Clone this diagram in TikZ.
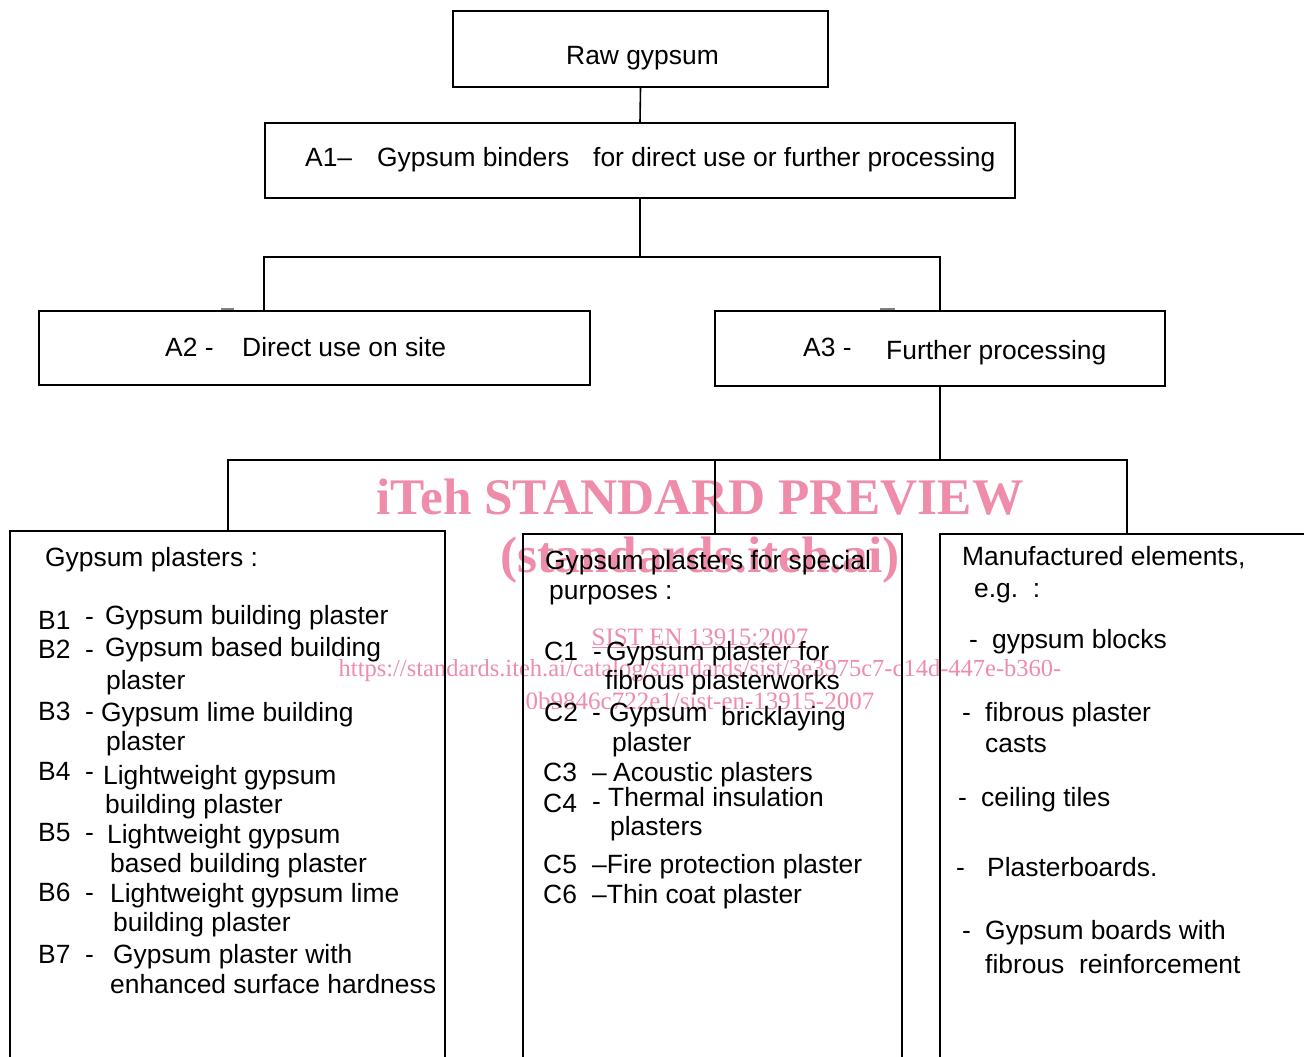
\documentclass[tikz,border=0pt]{standalone}
\usepackage{fontspec}
\setmainfont{Liberation Sans}
\newfontfamily\wmfont{Liberation Serif}
\newcommand\mainf{\fontsize{26.4}{30}\selectfont}
\definecolor{wmpink}{RGB}{239,140,170}
\begin{document}
\begin{tikzpicture}[x=1pt,y=-1pt,
  box/.style={draw=black,line width=1.6pt,rectangle,inner sep=0pt},
  txt/.style={anchor=base west,inner sep=0pt,font=\mainf,text=black},
  wm/.style={anchor=base,inner sep=0pt,text=wmpink},
  conn/.style={draw=black,line width=1.6pt}]
\useasboundingbox (0,0) rectangle (1304,1057);
\clip (0,0) rectangle (1304,1057);
\fill[white] (0,0) rectangle (1304,1057);

% watermark
\node[wm,font=\wmfont\bfseries\fontsize{51.3}{56}\selectfont] (wm1) at (700,514) {iTeh STANDARD PREVIEW};
\node[wm,font=\wmfont\bfseries\fontsize{51.3}{56}\selectfont] (wm2) at (700,572) {(standards.iteh.ai)};
\node[wm,font=\wmfont\fontsize{25}{28}\selectfont] (wm3) at (700,645) {\underline{SIST EN 13915:2007}};
\node[wm,font=\wmfont\fontsize{24.5}{28}\selectfont] (wm4) at (700,676) {https://standards.iteh.ai/catalog/standards/sist/3e3975c7-c14d-447e-b360-};
\node[wm,font=\wmfont\fontsize{25}{28}\selectfont] (wm5) at (700,709) {0b9846c722e1/sist-en-13915-2007};

% boxes
\node[box,minimum width=375,minimum height=76] (raw) at (640.5,49) {};
\node[box,minimum width=750,minimum height=75] (a1) at (640,160.5) {};
\node[box,minimum width=551,minimum height=74] (a2) at (314.5,348) {};
\node[box,minimum width=450,minimum height=75] (a3) at (940,348.5) {};
\node[box,minimum width=435,minimum height=560] (bl) at (227.5,811) {};
\node[box,minimum width=379,minimum height=560] (bm) at (712.5,814) {};
\node[box,minimum width=440,minimum height=560] (br) at (1160,814) {};

% connectors
\coordinate (j1) at (640,257);
\coordinate (j1l) at (264,257);
\coordinate (j1r) at (940,257);
\coordinate (a2t) at (264,311);
\coordinate (j2) at (940,460);
\coordinate (j2l) at (228,460);
\coordinate (j2m) at (715,460);
\coordinate (j2r) at (1127,460);
\coordinate (blt) at (228,531);
\coordinate (bmt) at (715,534);
\coordinate (brt) at (1127,534);
\draw[conn] (raw.south) -- (a1.north);
\draw[conn] (a1.south) -- (j1);
\draw[conn] (a2t) -- (j1l) -- (j1r) -- (a3.north);
\draw[conn] (a3.south) -- (j2);
\draw[conn] (blt) -- (j2l) -- (j2r) -- (brt);
\draw[conn] (j2m) -- (bmt);
\draw[gray,line width=2pt] (221,309) -- (234,309);
\draw[gray,line width=2pt] (880,309) -- (895,309);

% top texts
\node[txt] (traw) at (566,64) {Raw gypsum};
\node[txt] (ta1a) at (305,166) {A1–};
\node[txt] (ta1b) at (377,166) {Gypsum binders};
\node[txt] (ta1c) at (593,166) {for direct use or further processing};
\node[txt] (ta2a) at (165,356) {A2 -};
\node[txt] (ta2b) at (242,356) {Direct use on site};
\node[txt] (ta3a) at (803,356) {A3 -};
\node[txt] (ta3b) at (886,359) {Further processing};

% left box
\node[txt] (l0) at (45,566) {Gypsum plasters :};
\node[txt] (l1a) at (38,629) {B1}; \node[txt] (l1b) at (85,625) {-}; \node[txt] (l1c) at (105,624) {Gypsum building plaster};
\node[txt] (l2a) at (38,658) {B2}; \node[txt] (l2b) at (85,658) {-}; \node[txt] (l2c) at (105,656) {Gypsum based building};
\node[txt] (l2d) at (106,689) {plaster};
\node[txt] (l3a) at (38,720) {B3}; \node[txt] (l3b) at (85,720) {-}; \node[txt] (l3c) at (101,721) {Gypsum lime building};
\node[txt] (l3d) at (106,750) {plaster};
\node[txt] (l4a) at (38,780) {B4}; \node[txt] (l4b) at (85,780) {-}; \node[txt] (l4c) at (103,784) {Lightweight gypsum};
\node[txt] (l4d) at (105,813) {building plaster};
\node[txt] (l5a) at (38,841) {B5}; \node[txt] (l5b) at (85,841) {-}; \node[txt] (l5c) at (107,843) {Lightweight gypsum};
\node[txt] (l5d) at (110,872) {based building plaster};
\node[txt] (l6a) at (38,901) {B6}; \node[txt] (l6b) at (85,901) {-}; \node[txt] (l6c) at (110,902) {Lightweight gypsum lime};
\node[txt] (l6d) at (113,931) {building plaster};
\node[txt] (l7a) at (38,963) {B7}; \node[txt] (l7b) at (85,963) {-}; \node[txt] (l7c) at (113,963) {Gypsum plaster with};
\node[txt] (l7d) at (110,993) {enhanced surface hardness};

% middle box
\node[txt] (m0) at (545,569) {Gypsum plasters for special};
\node[txt] (m0b) at (549,599) {purposes :};
\node[txt] (m1a) at (544,660) {C1}; \node[txt] (m1b) at (593,660) {-}; \node[txt] (m1c) at (606,660) {Gypsum plaster for};
\node[txt] (m1d) at (605,689) {fibrous plasterworks};
\node[txt] (m2a) at (544,721) {C2}; \node[txt] (m2b) at (592,721) {-}; \node[txt] (m2c) at (609,721) {Gypsum}; \node[txt] (m2e) at (721,725) {bricklaying};
\node[txt] (m2d) at (612,751) {plaster};
\node[txt] (m3a) at (543,781) {C3}; \node[txt] (m3b) at (592,781) {–}; \node[txt] (m3c) at (613,781) {Acoustic plasters};
\node[txt] (m4a) at (543,812) {C4}; \node[txt] (m4b) at (592,810) {-}; \node[txt] (m4c) at (608,806) {Thermal insulation};
\node[txt] (m4d) at (610,835) {plasters};
\node[txt] (m5a) at (543,873) {C5}; \node[txt] (m5b) at (592,873) {–Fire protection plaster};
\node[txt] (m6a) at (543,903) {C6}; \node[txt] (m6b) at (592,903) {–Thin coat plaster};

% right box
\node[txt] (r0) at (962,565) {Manufactured elements,};
\node[txt] (r0b) at (974,597) {e.g.\ \ :};
\node[txt] (r1a) at (969,648) {-}; \node[txt] (r1b) at (992,648) {gypsum blocks};
\node[txt] (r2a) at (962,721) {-}; \node[txt] (r2b) at (985,721) {fibrous plaster};
\node[txt] (r2c) at (985,752) {casts};
\node[txt] (r3a) at (958,806) {-}; \node[txt] (r3b) at (981,806) {ceiling tiles};
\node[txt] (r4a) at (956,876) {-}; \node[txt] (r4b) at (987,876) {Plasterboards.};
\node[txt] (r5a) at (962,939) {-}; \node[txt] (r5b) at (985,939) {Gypsum boards with};
\node[txt] (r5c) at (985,973) {fibrous\ \ reinforcement};
\end{tikzpicture}
\end{document}
